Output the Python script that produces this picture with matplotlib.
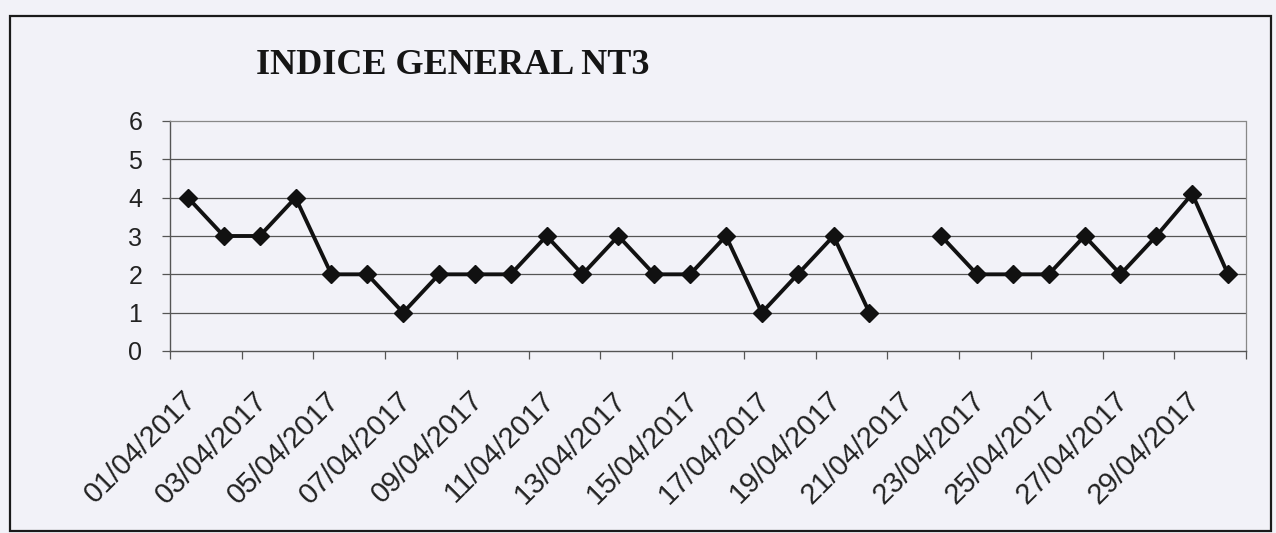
import matplotlib
matplotlib.use("Agg")
import matplotlib.pyplot as plt
import numpy as np
from matplotlib.patches import Rectangle
from matplotlib.transforms import offset_copy

# ---- data ----
title = "INDICE GENERAL NT3"
dates = [f"{d:02d}/04/2017" for d in range(1, 31)]
values = [4, 3, 3, 4, 2, 2, 1, 2, 2, 2,
          3, 2, 3, 2, 2, 3, 1, 2, 3, 1,
          np.nan, 3, 2, 2, 2, 3, 2, 3, 4.1, 2]
y_ticks = [0, 1, 2, 3, 4, 5, 6]

W, H = 1276, 533
bg = "#f2f2f8"
fig = plt.figure(figsize=(W / 100, H / 100), dpi=100, facecolor=bg)

# outer frame
fig.patches.append(Rectangle((10 / W, 1 - 531 / H), (1271 - 10) / W, (531 - 16) / H,
                             transform=fig.transFigure, fill=False,
                             edgecolor="#1a1a1a", linewidth=1.6))

left, right, top, bottom = 170, 1246, 121, 351
ax = fig.add_axes([left / W, 1 - bottom / H, (right - left) / W, (bottom - top) / H])
ax.set_facecolor(bg)

n = len(dates)
x = np.arange(n) + 0.5
ax.plot(x, values, color="#111111", linewidth=2.8, marker="D", markersize=9.5,
        markerfacecolor="#111111", markeredgecolor="#111111", zorder=3)

ax.set_xlim(0, n)
ax.set_ylim(0, 6)
ax.set_yticks(y_ticks)
ax.set_yticklabels([str(v) for v in y_ticks], fontsize=18, family="Liberation Sans", color="#222222")
for v in y_ticks[1:-1]:
    ax.axhline(v, color="#555555", linewidth=0.9, zorder=1)

ax.set_xticks(np.arange(0, n + 1, 2))
ax.set_xticklabels([])
ax.tick_params(axis="x", direction="out", length=6, width=0.9, color="#555555")
ax.tick_params(axis="y", direction="out", length=6, width=0.9, color="#555555", pad=14)

trans = offset_copy(ax.get_xaxis_transform(), fig=fig, x=-6, y=-35, units="dots")
for i in range(0, n, 2):
    ax.text(x[i], 0, dates[i], transform=trans, rotation=45, rotation_mode="anchor",
            ha="right", va="top", fontsize=21, family="Liberation Sans", color="#222222")

for s in ["left", "bottom"]:
    ax.spines[s].set_color("#555555")
    ax.spines[s].set_linewidth(1.0)
for s in ["top", "right"]:
    ax.spines[s].set_color("#888888")
    ax.spines[s].set_linewidth(0.9)
    ax.spines[s].set_linestyle((0, (2, 1)))

fig.text(453 / W, 1 - 66 / H, title, ha="center", va="center", fontsize=26,
         family="Liberation Serif", fontweight="bold", color="#151515")

fig.savefig("out.png", dpi=100, facecolor=bg)
